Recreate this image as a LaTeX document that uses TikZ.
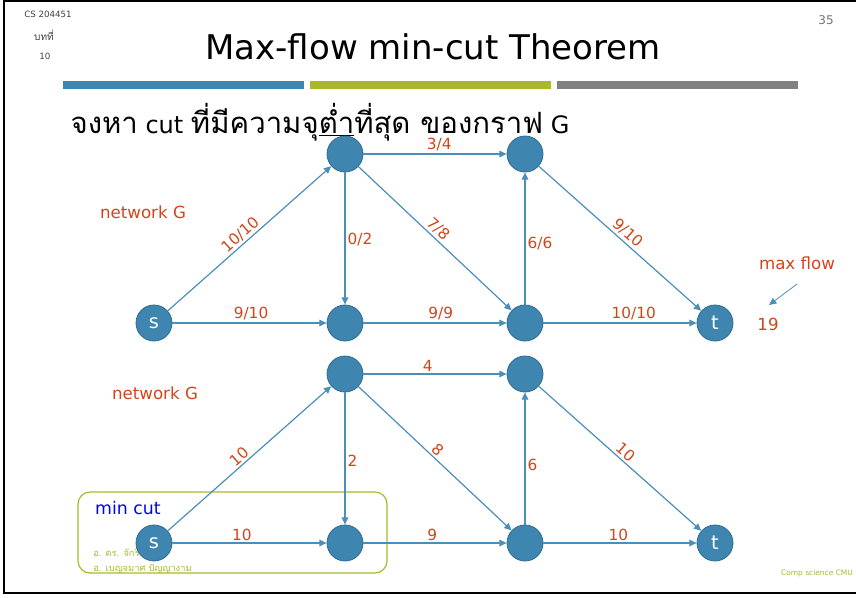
\documentclass[tikz,border=0pt]{standalone}
\usepackage{fontspec}
\setmainfont{DejaVu Sans}
\newfontfamily\thaifont[Script=Thai]{Loma}
\usepackage{tikz}
\usetikzlibrary{arrows.meta}
\definecolor{nodeblue}{HTML}{3E86B0}
\definecolor{nodeedge}{HTML}{2E6A8E}
\definecolor{linkblue}{HTML}{4A8FBA}
\definecolor{flowred}{HTML}{D2451A}
\definecolor{cutolive}{HTML}{A9B82B}
\definecolor{bargray}{HTML}{808080}

\begin{document}
\begin{tikzpicture}[x=0.75pt, y=-0.75pt, >={Triangle[length=5.5pt, width=5pt]}, line cap=round,
  vtx/.style={circle, fill=nodeblue, draw=nodeedge, line width=0.6pt, minimum size=27pt, inner sep=0pt, text=white, font=\fontsize{14.5}{14.5}\selectfont},
  flow/.style={->, linkblue, line width=0.9pt},
  lbl/.style={text=flowred, font=\fontsize{11.5}{12}\selectfont, inner sep=1.5pt},
  note/.style={text=flowred, font=\fontsize{12.5}{13}\selectfont},
  tiny/.style={font=\fontsize{6.5}{7}\selectfont}]
\useasboundingbox (0,0) rectangle (856,597);
% slide frame and header
\draw[black, line width=1.5pt] (856,1) -- (4,1) -- (4,593) -- (856,593);
\fill[nodeblue] (63,81) rectangle (304,89);
\fill[cutolive] (310,81) rectangle (551,89);
\fill[bargray] (557,81) rectangle (798,89);
\node[tiny, text=black!75] (course) at (48,14) {CS 204451};
\node[tiny, text=black!75] (chap) at (44,35) {\thaifont\fontsize{7.5}{8}\selectfont บทที่};
\node[tiny, text=black!75] (chapno) at (45,56) {10};
\node[font=\fontsize{9}{9}\selectfont, text=black!55] (page) at (826,20) {35};
\node[font=\fontsize{25.5}{26}\selectfont] (title) at (433,47) {Max-flow min-cut Theorem};
\node[font=\fontsize{18}{18}\selectfont] (task) at (320,122) {{\thaifont\fontsize{22}{23}\selectfont จงหา} cut {\thaifont\fontsize{22}{23}\selectfont ที่มีความจุ\underline{ต่ำ}ที่สุด ของกราฟ} G};

% network with flows
\node[note] (netA) at (143,212) {network G};
\node[vtx] (s) at (154,323) {s};
\node[vtx] (a) at (345,154) {};
\node[vtx] (b) at (525,154) {};
\node[vtx] (c) at (345,323) {};
\node[vtx] (d) at (525,323) {};
\node[vtx] (t) at (715,323) {t};
\draw[flow] (s) -- node[lbl, pos=0.48, sloped, above] {10/10} (a);
\draw[flow] (s) -- node[lbl, pos=0.51, above] {9/10} (c);
\draw[flow] (a) -- node[lbl, pos=0.53, above] {3/4} (b);
\draw[flow] (a) -- node[lbl, pos=0.51, right] {0/2} (c);
\draw[flow] (a) -- node[lbl, pos=0.48, sloped, above] {7/8} (d);
\draw[flow] (c) -- node[lbl, pos=0.54, above] {9/9} (d);
\draw[flow] (d) -- node[lbl, pos=0.46, right] {6/6} (b);
\draw[flow] (b) -- node[lbl, pos=0.51, sloped, above] {9/10} (t);
\draw[flow] (d) -- node[lbl, pos=0.59, above] {10/10} (t);
\node[note] (maxflow) at (797,263) {max flow};
\node[note] (flowval) at (768,324) {19};
\coordinate (mfstart) at (797,284);
\coordinate (mfend) at (769,305);
\draw[->, linkblue, line width=0.6pt] (mfstart) -- (mfend);

% min cut box (under the nodes)
\node[draw=cutolive, line width=0.9pt, rounded corners=9pt, minimum width=231.75pt, minimum height=60.75pt] (cutbox) at (232.5,532.5) {};
\node[font=\fontsize{13}{13}\selectfont, text=blue] (mincut) at (128,508) {min cut};
\node[text=cutolive, anchor=west, inner sep=0pt, font=\fontsize{7}{7}\selectfont] (lect1) at (93,553) {\thaifont อ. ดร. จักริน};
\node[text=cutolive, anchor=west, inner sep=0pt, font=\fontsize{7}{7}\selectfont] (lect2) at (93,569) {\thaifont อ. เบญจมาศ ปัญญางาม};
\node[text=cutolive, font=\fontsize{5.6}{6}\selectfont] (dept) at (817,573) {Comp science CMU};

% network with capacities
\node[note] (netB) at (155,393) {network G};
\node[vtx] (s2) at (154,543) {s};
\node[vtx] (a2) at (345,374) {};
\node[vtx] (b2) at (525,374) {};
\node[vtx] (c2) at (345,543) {};
\node[vtx] (d2) at (525,543) {};
\node[vtx] (t2) at (715,543) {t};
\draw[flow] (s2) -- node[lbl, pos=0.47, sloped, above] {10} (a2);
\draw[flow] (s2) -- node[lbl, pos=0.45, above] {10} (c2);
\draw[flow] (a2) -- node[lbl, pos=0.45, above] {4} (b2);
\draw[flow] (a2) -- node[lbl, pos=0.52, right] {2} (c2);
\draw[flow] (a2) -- node[lbl, pos=0.48, sloped, above] {8} (d2);
\draw[flow] (c2) -- node[lbl, pos=0.48, above] {9} (d2);
\draw[flow] (d2) -- node[lbl, pos=0.45, right] {6} (b2);
\draw[flow] (b2) -- node[lbl, pos=0.50, sloped, above] {10} (t2);
\draw[flow] (d2) -- node[lbl, pos=0.49, above] {10} (t2);
\end{tikzpicture}
\end{document}
